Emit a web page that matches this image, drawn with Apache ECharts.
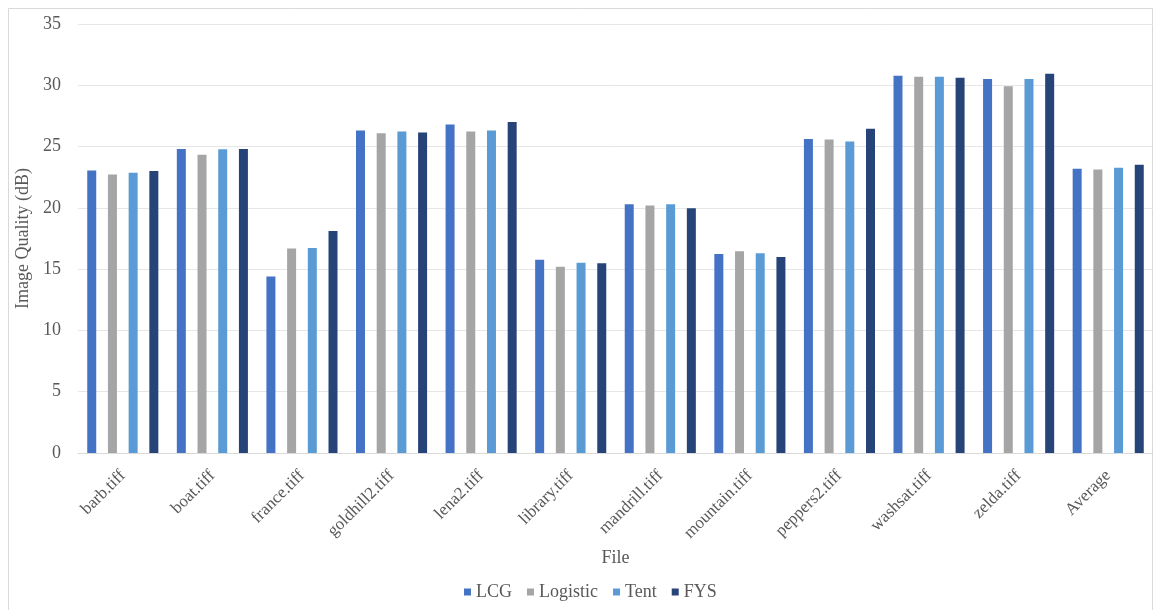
<!DOCTYPE html>
<html>
<head>
<meta charset="utf-8">
<script src="https://cdn.jsdelivr.net/npm/echarts@6/dist/echarts.min.js"></script>
<style>
  html, body { margin: 0; padding: 0; background: #ffffff; }
  #chart { width: 1158px; height: 610px; }
</style>
</head>
<body>
<div id="chart"></div>
<script>
// Image quality (dB) per test file for four chaotic map generators
const files = ['barb.tiff', 'boat.tiff', 'france.tiff', 'goldhill2.tiff', 'lena2.tiff', 'library.tiff',
  'mandrill.tiff', 'mountain.tiff', 'peppers2.tiff', 'washsat.tiff', 'zelda.tiff', 'Average'];
const lcg      = [23.05, 24.81, 14.40, 26.32, 26.81, 15.76, 20.30, 16.24, 25.62, 30.78, 30.51, 23.19];
const logistic = [22.73, 24.33, 16.69, 26.08, 26.22, 15.19, 20.19, 16.46, 25.57, 30.70, 29.92, 23.13];
const tent     = [22.87, 24.78, 16.72, 26.22, 26.32, 15.52, 20.30, 16.29, 25.41, 30.70, 30.51, 23.27];
const fys      = [23.00, 24.81, 18.11, 26.14, 27.00, 15.49, 19.97, 15.99, 26.46, 30.62, 30.94, 23.52];
const yTicks   = [0, 5, 10, 15, 20, 25, 30, 35];

const seriesDefs = [
  { name: 'LCG', data: lcg, color: '#4472C4' },
  { name: 'Logistic', data: logistic, color: '#A5A5A5' },
  { name: 'Tent', data: tent, color: '#5B9BD5' },
  { name: 'FYS', data: fys, color: '#264478' }
];

const serif = '"Liberation Serif", "DejaVu Serif", serif';
const textColor = '#595959';

const chart = echarts.init(document.getElementById('chart'), null, { renderer: 'canvas' });
chart.setOption({
  animation: false,
  backgroundColor: '#ffffff',
  textStyle: { fontFamily: serif },
  graphic: [{
    type: 'rect',
    shape: { x: 8.5, y: 8.5, width: 1144, height: 610 },
    style: { fill: 'none', stroke: '#d9d9d9', lineWidth: 1 },
    silent: true,
    z: -1
  }],
  grid: { left: 78, right: 5, top: 24, bottom: 157, containLabel: false },
  legend: {
    bottom: 4,
    left: 459,
    itemWidth: 7,
    itemHeight: 7,
    itemGap: 15,
    icon: 'rect',
    textStyle: { fontFamily: serif, fontSize: 18, color: textColor },
    data: seriesDefs.map(s => s.name)
  },
  xAxis: {
    type: 'category',
    data: files,
    name: 'File',
    nameLocation: 'middle',
    nameGap: 96,
    nameTextStyle: { fontFamily: serif, fontSize: 18, color: textColor },
    axisLine: { lineStyle: { color: '#d9d9d9', width: 1 } },
    axisTick: { show: false },
    axisLabel: {
      rotate: 45,
      margin: 20,
      interval: 0,
      fontFamily: serif,
      fontSize: 17,
      color: textColor
    }
  },
  yAxis: {
    type: 'value',
    min: yTicks[0],
    max: yTicks[yTicks.length - 1],
    interval: yTicks[1] - yTicks[0],
    name: 'Image Quality (dB)',
    nameLocation: 'middle',
    nameGap: 39,
    nameRotate: 90,
    nameTextStyle: { fontFamily: serif, fontSize: 18, color: textColor },
    axisLine: { show: false },
    axisTick: { show: false },
    axisLabel: { margin: 17, fontFamily: serif, fontSize: 18, color: textColor },
    splitLine: { lineStyle: { color: '#e6e6e6', width: 1 } }
  },
  series: seriesDefs.map(s => ({
    name: s.name,
    type: 'bar',
    data: s.data,
    barWidth: 9,
    barGap: '130%',
    itemStyle: { color: s.color }
  }))
});
</script>
</body>
</html>
